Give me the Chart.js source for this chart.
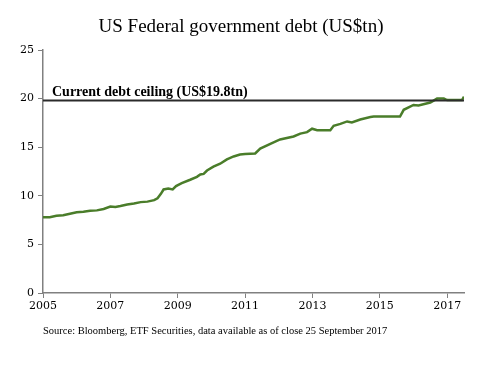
<!DOCTYPE html>
<html>
<head>
<meta charset="utf-8">
<script src="https://cdn.jsdelivr.net/npm/chart.js@4.4.0/dist/chart.umd.min.js"></script>
<style>
  html, body { margin: 0; padding: 0; background: #fff; }
  #wrap { width: 494px; height: 369px; }
</style>
</head>
<body>
<div id="wrap"><canvas id="chart" width="494" height="369"></canvas></div>
<script>
// Chart data
const titleText = "US Federal government debt (US$tn)";
const sourceText = "Source: Bloomberg, ETF Securities, data available as of close 25 September 2017";
const ceilingLabel = "Current debt ceiling (US$19.8tn)";
const ceilingValue = 19.8;

const years = [
  2005.0, 2005.2, 2005.4, 2005.6, 2005.8, 2006.0, 2006.2, 2006.4, 2006.6, 2006.8,
  2007.0, 2007.15, 2007.3, 2007.5, 2007.7, 2007.9, 2008.1, 2008.3, 2008.4, 2008.5,
  2008.58, 2008.72, 2008.85, 2008.95, 2009.12, 2009.37, 2009.57, 2009.67, 2009.77, 2009.87,
  2010.06, 2010.26, 2010.46, 2010.66, 2010.85, 2011.0, 2011.3, 2011.45, 2011.75, 2012.04,
  2012.44, 2012.64, 2012.84, 2012.99, 2013.14, 2013.53, 2013.63, 2013.83, 2014.03, 2014.17,
  2014.42, 2014.72, 2014.82, 2015.6, 2015.71, 2016.0, 2016.15, 2016.5, 2016.7, 2016.9,
  2017.0, 2017.44, 2017.5
];
const debt = [
  7.8, 7.8, 7.95, 8.0, 8.15, 8.3, 8.35, 8.45, 8.5, 8.65,
  8.9, 8.85, 8.95, 9.1, 9.2, 9.35, 9.4, 9.55, 9.75, 10.2,
  10.65, 10.75, 10.65, 11.0, 11.3, 11.65, 11.95, 12.2, 12.25, 12.6,
  13.0, 13.3, 13.75, 14.05, 14.25, 14.3, 14.35, 14.85, 15.35, 15.8,
  16.1, 16.4, 16.55, 16.9, 16.75, 16.75, 17.2, 17.4, 17.65, 17.55,
  17.85, 18.1, 18.15, 18.15, 18.85, 19.35, 19.3, 19.6, 20.0, 20.0,
  19.85, 19.85, 20.2
];
const xTicks = [2005, 2007, 2009, 2011, 2013, 2015, 2017];
const yTicks = [0, 5, 10, 15, 20, 25];
const xMin = 2005, xMax = 2017.5;

// draws title, source note and the ceiling label
const textPlugin = {
  id: 'texts',
  afterDraw(chart) {
    const ctx = chart.ctx;
    const x = chart.scales.x, y = chart.scales.y;
    ctx.save();
    ctx.fillStyle = '#000';
    ctx.textBaseline = 'alphabetic';

    ctx.font = '19px "Liberation Serif"';
    ctx.textAlign = 'center';
    ctx.fillText(titleText, 241, 32);

    ctx.font = 'bold 14px "Liberation Serif"';
    ctx.textAlign = 'left';
    ctx.fillText(ceilingLabel, x.getPixelForValue(xMin) + 9, y.getPixelForValue(ceilingValue) - 5);

    ctx.font = '10.5px "Liberation Serif"';
    ctx.fillText(sourceText, 43, 334);
    ctx.restore();
  }
};

const ctx = document.getElementById("chart").getContext("2d");
new Chart(ctx, {
  type: 'line',
  data: {
    datasets: [
      {
        label: "Debt ceiling",
        data: [{ x: xMin, y: ceilingValue }, { x: xMax, y: ceilingValue }],
        borderColor: '#2b2b2b',
        borderWidth: 2,
        pointRadius: 0,
        order: 0
      },
      {
        label: "Debt",
        data: years.map((yr, i) => ({ x: yr, y: debt[i] })),
        borderColor: '#4a7d2a',
        borderWidth: 2.5,
        pointRadius: 0,
        tension: 0,
        order: 1
      }
    ]
  },
  options: {
    responsive: false,
    animation: false,
    layout: { padding: { left: 0, right: 30, top: 50, bottom: 0 } },
    plugins: { legend: { display: false }, tooltip: { enabled: false } },
    scales: {
      x: {
        type: 'linear',
        min: xMin,
        max: xMax,
        afterBuildTicks: (s) => { s.ticks = xTicks.map(v => ({ value: v })); },
        afterFit: (s) => { s.height = 76; },
        border: { color: '#808080', width: 1.5 },
        grid: { drawOnChartArea: false, drawTicks: true, tickLength: 5, color: '#808080' },
        ticks: {
          color: '#000', font: { family: 'DejaVu Serif', size: 11 }, padding: 2, maxRotation: 0,
          callback: (v) => String(v)
        }
      },
      y: {
        min: 0,
        max: 25,
        afterBuildTicks: (s) => { s.ticks = yTicks.map(v => ({ value: v })); },
        afterFit: (s) => { s.width = 43; },
        border: { color: '#808080', width: 1.5 },
        grid: { drawOnChartArea: false, drawTicks: true, tickLength: 5, color: '#808080' },
        ticks: { color: '#000', font: { family: 'DejaVu Serif', size: 11 }, padding: 4 }
      }
    }
  },
  plugins: [textPlugin]
});
</script>
</body>
</html>
